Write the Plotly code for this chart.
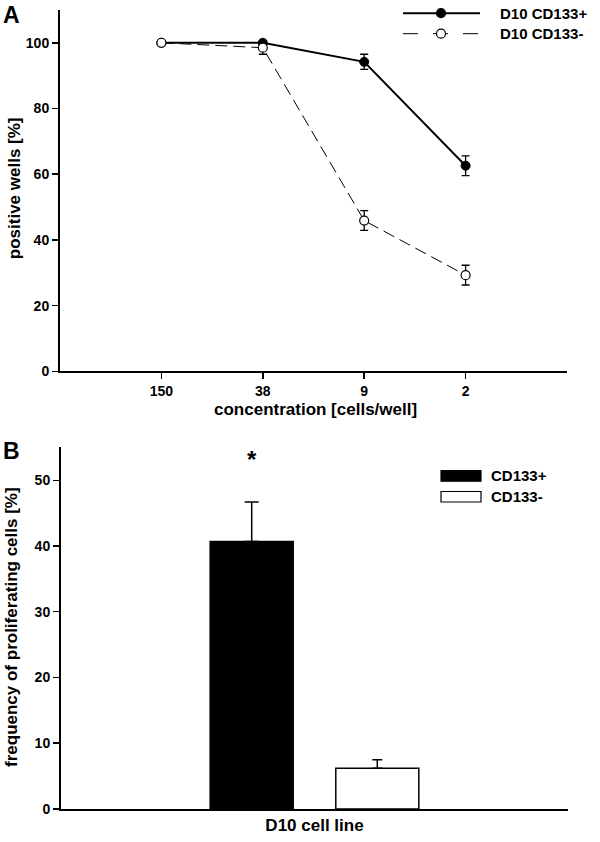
import plotly.graph_objects as go

# ---------------- data ----------------
concentrations = ["150", "38", "9", "2"]
cd133_pos = [100, 100, 94.2, 62.6]
cd133_pos_err = [0, 0.5, 2.3, 3.0]
cd133_neg = [100, 98.5, 45.9, 29.3]
cd133_neg_err = [0, 2.0, 3.0, 3.0]

bar_category = ["D10 cell line"]
bar_names = ["CD133+", "CD133-"]
bar_values = [40.7, 6.2]
bar_err_up = [6.0, 1.3]

W, H = 600, 842
FONT = "Arial, Liberation Sans, Helvetica, sans-serif"


def px(x):
    return x / W


def py(y):
    return 1 - y / H


fig = go.Figure()

# ---------------- panel A ----------------
fig.add_trace(go.Scatter(
    x=concentrations, y=cd133_pos, name="D10 CD133+", mode="lines+markers",
    line=dict(color="black", width=2),
    marker=dict(symbol="circle", size=9, color="black", line=dict(color="black", width=1)),
    error_y=dict(type="data", array=cd133_pos_err, color="black", thickness=1.3, width=4),
    xaxis="x", yaxis="y", showlegend=False,
))
fig.add_trace(go.Scatter(
    x=concentrations, y=cd133_neg, name="D10 CD133-", mode="lines+markers",
    line=dict(color="black", width=1, dash="12px,6px"),
    marker=dict(symbol="circle", size=9, color="white", line=dict(color="black", width=1.2)),
    error_y=dict(type="data", array=cd133_neg_err, color="black", thickness=1.3, width=4),
    xaxis="x", yaxis="y", showlegend=False,
))

# ---------------- panel B ----------------
bargap = 0.5045
bargroupgap = 0.339
bar_fills = ["black", "white"]
bar_caps = [7, 5]
for name, val, err, fill, cap in zip(bar_names, bar_values, bar_err_up, bar_fills, bar_caps):
    fig.add_trace(go.Bar(
        x=bar_category, y=[val], name=name,
        marker=dict(color=fill, line=dict(color="black", width=1.5)),
        error_y=dict(type="data", symmetric=False, array=[err], arrayminus=[0],
                     color="black", thickness=1.5, width=cap),
        xaxis="x2", yaxis="y2", showlegend=False,
    ))

tickfont = dict(family=FONT, size=14, color="black", weight="bold")
axis_common = dict(showline=True, linewidth=2, linecolor="black", showgrid=False,
                   zeroline=False, ticks="outside", ticklen=6, tickwidth=1.5,
                   tickcolor="black", tickfont=tickfont)

fig.update_layout(
    width=W, height=H,
    margin=dict(l=0, r=0, t=0, b=0),
    paper_bgcolor="white", plot_bgcolor="white",
    font=dict(family=FONT, color="black"),
    barmode="group", bargap=bargap, bargroupgap=bargroupgap,
    xaxis=dict(domain=[px(60), px(567)], anchor="y", type="category",
               range=[-1, 4], **axis_common),
    yaxis=dict(domain=[py(375), py(10)], anchor="x", range=[0, 110],
               tickvals=[0, 20, 40, 60, 80, 100], **axis_common),
    xaxis2=dict(domain=[px(61), px(568)], anchor="y2", type="category",
                range=[-0.5, 0.5], showline=True, linewidth=2, linecolor="black",
                showgrid=False, zeroline=False, ticks="",
                tickfont=dict(family=FONT, size=17, color="black", weight="bold")),
    yaxis2=dict(domain=[py(816.7), py(451.7)], anchor="x2", range=[0, 55],
                tickvals=[0, 10, 20, 30, 40, 50], **axis_common),
)

annotations = []
titlefont = dict(family=FONT, size=17, color="black", weight="bold")
# axis titles
annotations.append(dict(text="positive wells [%]", x=px(14), y=py(190), xref="paper", yref="paper",
                        textangle=-90, showarrow=False, font=titlefont, xanchor="center", yanchor="middle"))
annotations.append(dict(text="concentration [cells/well]", x=px(315), y=py(413), xref="paper", yref="paper",
                        showarrow=False, font=titlefont, xanchor="center", yanchor="middle"))
annotations.append(dict(text="frequency of proliferating cells [%]", x=px(12), y=py(633), xref="paper", yref="paper",
                        textangle=-90, showarrow=False, font=titlefont, xanchor="center", yanchor="middle"))
# panel letters
annotations.append(dict(text="A", x=px(1), y=py(15), xref="paper", yref="paper", showarrow=False,
                        font=dict(family=FONT, size=23, color="black", weight="bold"),
                        xanchor="left", yanchor="middle"))
annotations.append(dict(text="B", x=px(1), y=py(455), xref="paper", yref="paper", showarrow=False,
                        font=dict(family=FONT, size=23, color="black", weight="bold"),
                        xanchor="left", yanchor="middle"))
# significance asterisk above CD133+ bar
slot = (1 - bargap) / len(bar_names)
annotations.append(dict(text="*", x=-slot / 2, y=53.2, xref="x2", yref="y2", showarrow=False,
                        font=dict(family=FONT, size=24, color="black", weight="bold"),
                        xanchor="center", yanchor="middle"))

# legend A (manual)
legfont = dict(family=FONT, size=15, color="black", weight="bold")
shapes = []
for i, (label, dash, fill) in enumerate([("D10 CD133+", "solid", "black"), ("D10 CD133-", "longdash", "white")]):
    yy = [13.3, 34.0][i]
    shapes.append(dict(type="line", xref="paper", yref="paper", x0=px(403), x1=px(480),
                       y0=py(yy), y1=py(yy), line=dict(color="black", width=2 if i == 0 else 1, dash=dash)))
    shapes.append(dict(type="circle", xref="paper", yref="paper", x0=px(436.5), x1=px(445.5),
                       y0=py(yy + 4.5), y1=py(yy - 4.5), fillcolor=fill, line=dict(color="black", width=1.2)))
    annotations.append(dict(text=label, x=px(498), y=py(yy), xref="paper", yref="paper", showarrow=False,
                            font=legfont, xanchor="left", yanchor="middle"))

# legend B (manual)
for i, (label, fill) in enumerate(zip(bar_names, bar_fills)):
    yy = [480.5, 501.5][i]
    shapes.append(dict(type="rect", xref="paper", yref="paper", x0=px(441), x1=px(481),
                       y0=py(yy + 5.3), y1=py(yy - 5.3), fillcolor=fill, line=dict(color="black", width=1.2)))
    annotations.append(dict(text=label, x=px(489), y=py(yy), xref="paper", yref="paper", showarrow=False,
                            font=legfont, xanchor="left", yanchor="middle"))

fig.update_layout(annotations=annotations, shapes=shapes)
fig.write_html("out.html", config={"displayModeBar": False, "staticPlot": True},
               post_script="document.body.style.margin='0';document.body.style.overflow='hidden';")
